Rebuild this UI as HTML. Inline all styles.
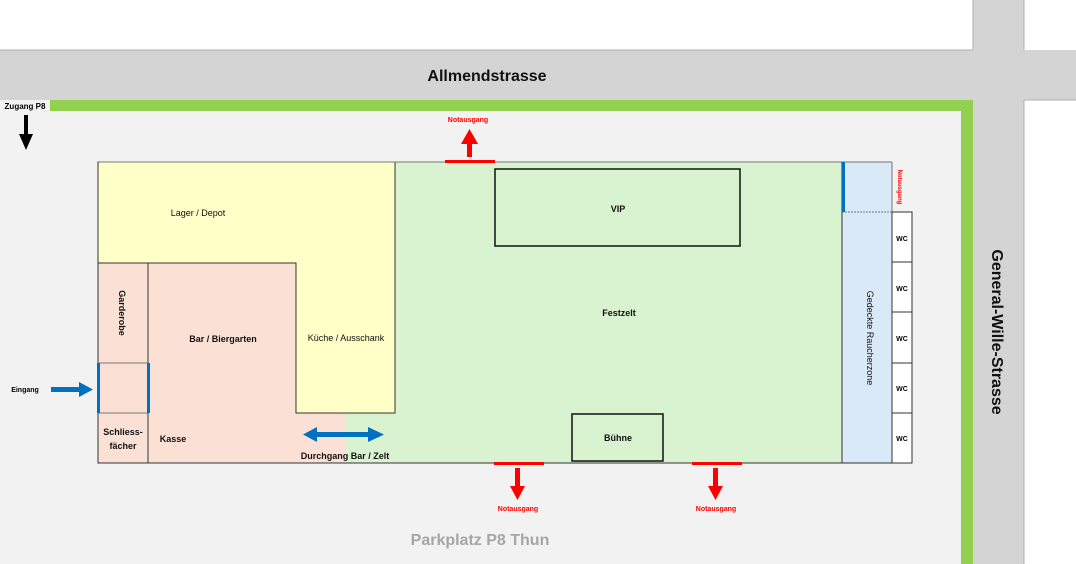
<!DOCTYPE html>
<html><head><meta charset="utf-8"><style>html,body{margin:0;padding:0;background:#fff}svg{display:block}text{font-family:"Liberation Sans",sans-serif}</style></head><body>
<svg width="1076" height="564" viewBox="0 0 1076 564" xmlns="http://www.w3.org/2000/svg">
<rect x="0" y="0" width="1076" height="564" fill="#fff"/>
<!-- roads -->
<rect x="0" y="50" width="1076" height="50" fill="#d4d4d4"/>
<rect x="973" y="0" width="51" height="564" fill="#d4d4d4"/>
<rect x="1024" y="100" width="52" height="464" fill="#fff"/>
<line x1="973" y1="0" x2="973" y2="50" stroke="#b0b0b0"/>
<line x1="1024" y1="0" x2="1024" y2="50" stroke="#b0b0b0"/>
<line x1="1024" y1="100" x2="1076" y2="100" stroke="#b0b0b0"/>
<line x1="1024" y1="100" x2="1024" y2="564" stroke="#b0b0b0"/>
<line x1="0" y1="50" x2="973" y2="50" stroke="#b0b0b0"/>
<!-- plot -->
<rect x="0" y="100" width="973" height="464" fill="#f2f2f2"/>
<rect x="50" y="100" width="923" height="11" fill="#92d050"/>
<rect x="961" y="100" width="12" height="464" fill="#92d050"/>
<text x="487" y="81" font-size="16" font-weight="bold" text-anchor="middle" fill="#111">Allmendstrasse</text>
<text transform="translate(992,332) rotate(90)" font-size="16" font-weight="bold" text-anchor="middle" fill="#111">General-Wille-Strasse</text>
<text x="480" y="545" font-size="16" font-weight="bold" text-anchor="middle" fill="#a6a6a6">Parkplatz P8 Thun</text>
<!-- Zugang -->
<text x="25" y="109" font-size="8" font-weight="bold" text-anchor="middle">Zugang P8</text>
<rect x="24" y="115" width="4" height="20" fill="#000"/>
<polygon points="19,134 33,134 26,150" fill="#000"/>
<!-- areas -->
<rect x="395" y="162" width="447" height="301" fill="#d9f2d0"/>
<rect x="296" y="413" width="99" height="50" fill="#d9f2d0"/>
<rect x="98" y="263" width="247" height="200" fill="#fbe0d5"/>
<path d="M98,162 H395 V413 H296 V263 H98 Z" fill="#ffffc8" stroke="#333" stroke-width="1"/>
<rect x="842" y="162" width="50" height="301" fill="#dae9f7"/>
<line x1="98" y1="162" x2="892" y2="162" stroke="#777"/>
<line x1="98" y1="463" x2="892" y2="463" stroke="#333"/>
<line x1="98" y1="162" x2="98" y2="463" stroke="#333"/>
<rect x="98" y="263" width="50" height="200" fill="none" stroke="#333"/>
<line x1="148" y1="263" x2="296" y2="263" stroke="#333"/>
<line x1="98" y1="363" x2="148" y2="363" stroke="#777"/>
<line x1="98" y1="413" x2="148" y2="413" stroke="#777"/>
<line x1="842" y1="162" x2="842" y2="463" stroke="#333"/>
<line x1="892" y1="162" x2="892" y2="212" stroke="#777"/>
<line x1="842" y1="212" x2="892" y2="212" stroke="#777" stroke-dasharray="2,1"/>
<rect x="892" y="212" width="20" height="251" fill="#fff" stroke="#333"/>
<line x1="892" y1="262" x2="912" y2="262" stroke="#333"/>
<line x1="892" y1="312" x2="912" y2="312" stroke="#333"/>
<line x1="892" y1="363" x2="912" y2="363" stroke="#333"/>
<line x1="892" y1="413" x2="912" y2="413" stroke="#333"/>
<g font-size="7" font-weight="bold" text-anchor="middle"><text x="902" y="241">WC</text><text x="902" y="291">WC</text><text x="902" y="341">WC</text><text x="902" y="391">WC</text><text x="902" y="441">WC</text></g>
<rect x="842" y="162" width="3" height="50" fill="#0070c0"/>
<rect x="97" y="363" width="3" height="50" fill="#0070c0"/>
<rect x="147" y="363" width="3" height="50" fill="#0070c0"/>
<rect x="495" y="169" width="245" height="77" fill="none" stroke="#111" stroke-width="1.5"/>
<rect x="572" y="414" width="91" height="47" fill="none" stroke="#111" stroke-width="1.5"/>
<!-- labels -->
<g font-size="9" fill="#111">
<text x="198" y="216" text-anchor="middle">Lager / Depot</text>
<text x="346" y="341" text-anchor="middle">Küche / Ausschank</text>
<text transform="translate(867,338) rotate(90)" text-anchor="middle">Gedeckte Raucherzone</text>
</g>
<g font-size="9" font-weight="bold" fill="#111">
<text x="223" y="342" text-anchor="middle">Bar / Biergarten</text>
<text x="618" y="212" text-anchor="middle">VIP</text>
<text x="619" y="316" text-anchor="middle">Festzelt</text>
<text x="618" y="441" text-anchor="middle">Bühne</text>
<text x="173" y="442" text-anchor="middle">Kasse</text>
<text x="123" y="435" text-anchor="middle">Schliess-</text>
<text x="123" y="449" text-anchor="middle">fächer</text>
<text x="345" y="459" text-anchor="middle">Durchgang Bar / Zelt</text>
<text transform="translate(119,313) rotate(90)" text-anchor="middle">Garderobe</text>
</g>
<text x="25" y="392" font-size="7" font-weight="bold" text-anchor="middle">Eingang</text>
<!-- blue arrows -->
<rect x="51" y="387" width="30" height="5" fill="#0070c0"/>
<polygon points="79,382 93,389.5 79,397" fill="#0070c0"/>
<rect x="315" y="432" width="55" height="5" fill="#0070c0"/>
<polygon points="317,427 303,434.5 317,442" fill="#0070c0"/>
<polygon points="368,427 384,434.5 368,442" fill="#0070c0"/>
<!-- emergency exits -->
<rect x="445" y="160" width="50" height="3" fill="#f00"/>
<rect x="467" y="142" width="5" height="15" fill="#f00"/>
<polygon points="461,144 478,144 469.5,129" fill="#f00"/>
<text x="468" y="122" font-size="7" font-weight="bold" fill="#f00" text-anchor="middle">Notausgang</text>
<rect x="494" y="462" width="50" height="3" fill="#f00"/>
<rect x="515" y="468" width="5" height="18" fill="#f00"/>
<polygon points="510,486 525,486 517.5,500" fill="#f00"/>
<text x="518" y="511" font-size="7" font-weight="bold" fill="#f00" text-anchor="middle">Notausgang</text>
<rect x="692" y="462" width="50" height="3" fill="#f00"/>
<rect x="713" y="468" width="5" height="18" fill="#f00"/>
<polygon points="708,486 723,486 715.5,500" fill="#f00"/>
<text x="716" y="511" font-size="7" font-weight="bold" fill="#f00" text-anchor="middle">Notausgang</text>
<text transform="translate(898,187) rotate(90)" font-size="6" font-weight="bold" fill="#f00" text-anchor="middle">Notausgang</text>
</svg>
</body></html>
